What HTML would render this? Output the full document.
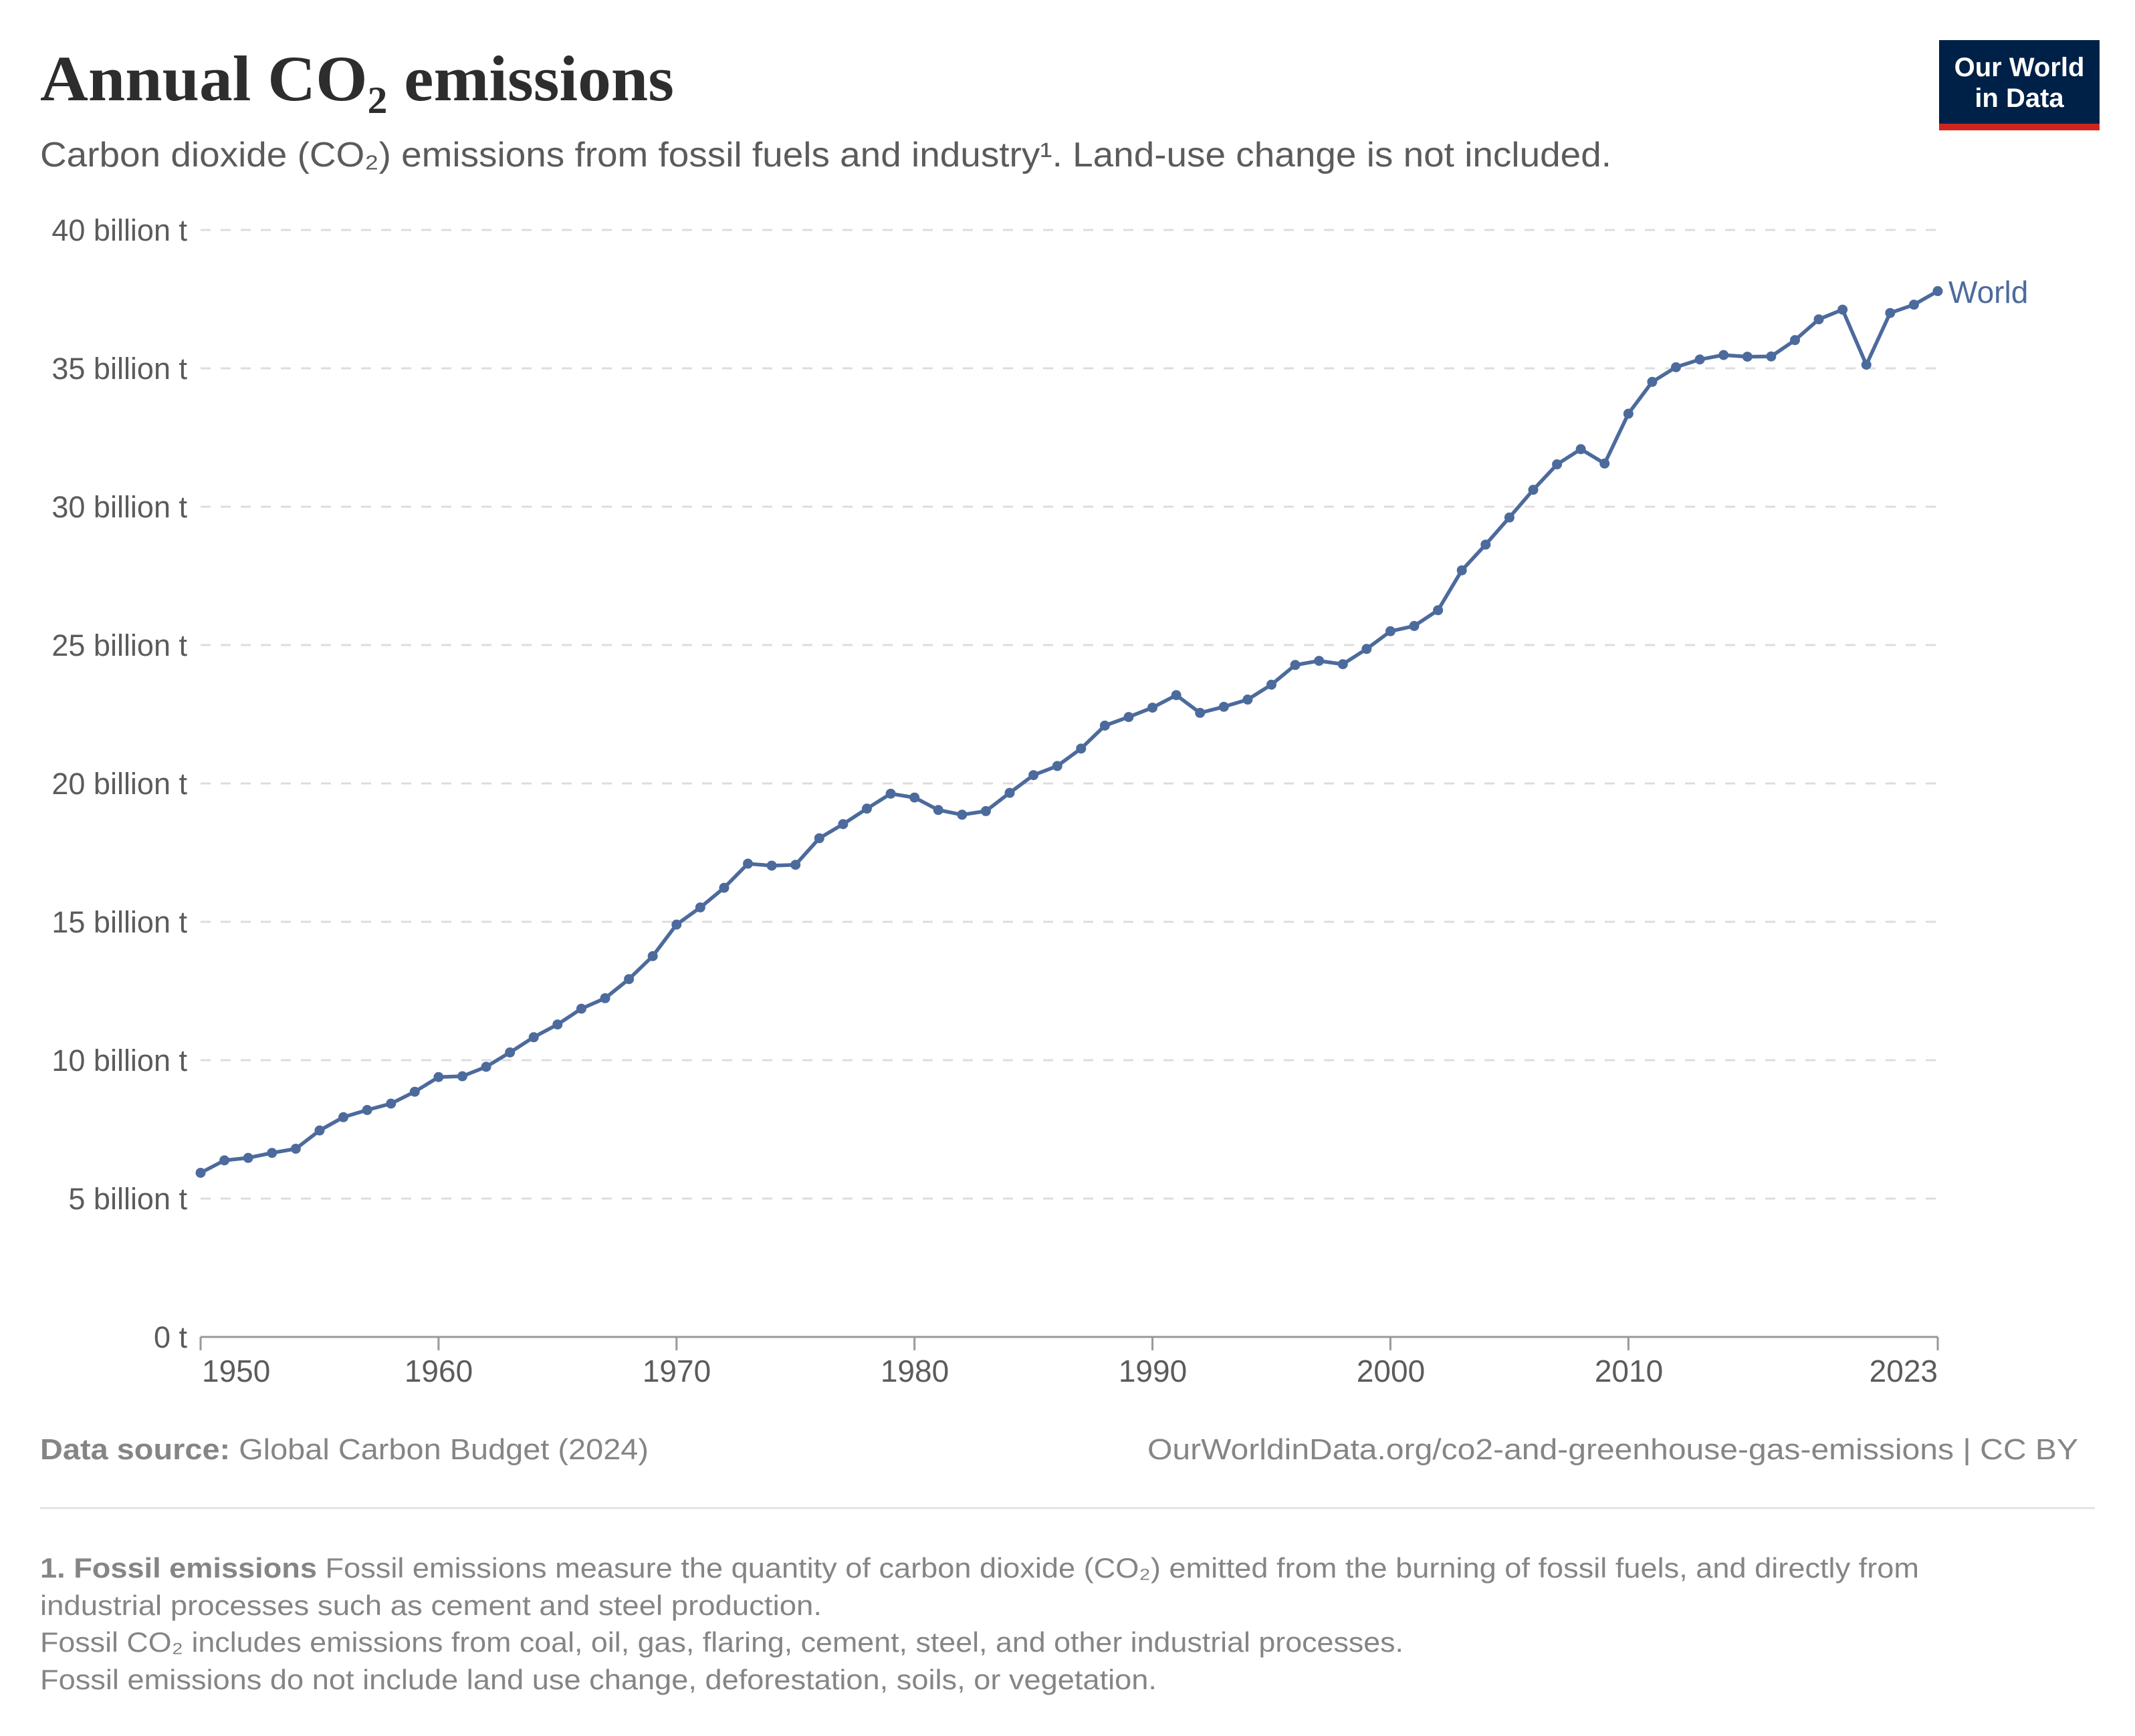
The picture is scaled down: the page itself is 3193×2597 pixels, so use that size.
<!DOCTYPE html>
<html><head><meta charset="utf-8"><style>
html,body{margin:0;padding:0;background:#fff;}
svg{display:block;}
text{font-family:"Liberation Sans",sans-serif;}
</style></head><body>
<svg id="s" width="3193" height="2597" viewBox="0 0 3193 2597" xmlns="http://www.w3.org/2000/svg">
<rect width="3193" height="2597" fill="#fff"/>
<text x="60" y="150" style="font-family:'Liberation Serif',serif" font-weight="bold" font-size="96" fill="#2d2d2d" textLength="948" lengthAdjust="spacingAndGlyphs">Annual CO₂ emissions</text>
<text x="60" y="249" font-size="52" fill="#5b5b5b" textLength="2350" lengthAdjust="spacingAndGlyphs">Carbon dioxide (CO₂) emissions from fossil fuels and industry¹. Land-use change is not included.</text>
<rect x="2900" y="60" width="240" height="125" fill="#002147"/>
<rect x="2900" y="185" width="240" height="10" fill="#ce261e"/>
<text x="3020" y="114" font-size="40" font-weight="bold" fill="#fff" text-anchor="middle">Our World</text>
<text x="3020" y="160" font-size="40" font-weight="bold" fill="#fff" text-anchor="middle">in Data</text>
<g stroke="#dddddd" stroke-width="3" stroke-dasharray="15,15">
<line x1="300" x2="2898" y1="344" y2="344"/><line x1="300" x2="2898" y1="551" y2="551"/>
<line x1="300" x2="2898" y1="758" y2="758"/><line x1="300" x2="2898" y1="965" y2="965"/>
<line x1="300" x2="2898" y1="1172" y2="1172"/><line x1="300" x2="2898" y1="1379" y2="1379"/>
<line x1="300" x2="2898" y1="1586" y2="1586"/><line x1="300" x2="2898" y1="1793" y2="1793"/>
</g>
<g font-size="45" fill="#5b5b5b" text-anchor="end">
<text x="280" y="360">40 billion t</text><text x="280" y="567">35 billion t</text>
<text x="280" y="774">30 billion t</text><text x="280" y="981">25 billion t</text>
<text x="280" y="1188">20 billion t</text><text x="280" y="1395">15 billion t</text>
<text x="280" y="1602">10 billion t</text><text x="280" y="1809">5 billion t</text>
<text x="280" y="2016">0 t</text>
</g>
<line x1="300" x2="2898" y1="2000" y2="2000" stroke="#999" stroke-width="3"/>
<g stroke="#999" stroke-width="3" id="ticks"></g>
<g font-size="46" fill="#5b5b5b" text-anchor="middle">
<text x="302" y="2067" text-anchor="start">1950</text>
<text x="656" y="2067">1960</text><text x="1012" y="2067">1970</text>
<text x="1368" y="2067">1980</text><text x="1724" y="2067">1990</text>
<text x="2080" y="2067">2000</text><text x="2436" y="2067">2010</text>
<text x="2898" y="2067" text-anchor="end">2023</text>
</g>
<g id="series"></g>
<text x="2914" y="453" font-size="46" fill="#4c6a9c">World</text>
<text x="60" y="2183" font-size="44" fill="#858585" textLength="910" lengthAdjust="spacingAndGlyphs"><tspan font-weight="bold">Data source:</tspan> Global Carbon Budget (2024)</text>
<text x="1716" y="2183" font-size="44" fill="#858585" textLength="1392" lengthAdjust="spacingAndGlyphs">OurWorldinData.org/co2-and-greenhouse-gas-emissions | CC BY</text>
<line x1="60" x2="3133" y1="2256" y2="2256" stroke="#e2e2e2" stroke-width="3"/>
<g font-size="42" fill="#858585">
<text x="60" y="2360" textLength="2810" lengthAdjust="spacingAndGlyphs"><tspan font-weight="bold">1. Fossil emissions</tspan> Fossil emissions measure the quantity of carbon dioxide (CO₂) emitted from the burning of fossil fuels, and directly from</text>
<text x="60" y="2416" textLength="1169" lengthAdjust="spacingAndGlyphs">industrial processes such as cement and steel production.</text>
<text x="60" y="2471" textLength="2039" lengthAdjust="spacingAndGlyphs">Fossil CO₂ includes emissions from coal, oil, gas, flaring, cement, steel, and other industrial processes.</text>
<text x="60" y="2527" textLength="1670" lengthAdjust="spacingAndGlyphs">Fossil emissions do not include land use change, deforestation, soils, or vegetation.</text>
</g>
</svg>
<script>
var d=[5.93,6.38,6.47,6.65,6.80,7.46,7.94,8.20,8.43,8.86,9.39,9.42,9.76,10.28,10.83,11.29,11.86,12.24,12.93,13.76,14.90,15.52,16.23,17.10,17.03,17.06,18.02,18.53,19.09,19.63,19.49,19.04,18.87,19.00,19.66,20.30,20.63,21.26,22.09,22.40,22.74,23.19,22.55,22.77,23.03,23.57,24.28,24.43,24.31,24.86,25.50,25.69,26.26,27.70,28.63,29.61,30.61,31.53,32.08,31.56,33.36,34.51,35.04,35.32,35.48,35.42,35.43,36.02,36.77,37.12,35.13,37.00,37.30,37.79];
var NS="http://www.w3.org/2000/svg",g=document.getElementById("series"),pts=[];
function X(i){return 300+i*(2598/73);}function Y(v){return 2000-v*41.4;}
for(var i=0;i<d.length;i++)pts.push(X(i).toFixed(1)+","+Y(d[i]).toFixed(1));
var p=document.createElementNS(NS,"polyline");p.setAttribute("points",pts.join(" "));
p.setAttribute("fill","none");p.setAttribute("stroke","#4c6a9c");p.setAttribute("stroke-width","5.5");p.setAttribute("stroke-linejoin","round");g.appendChild(p);
for(i=0;i<d.length;i++){var c=document.createElementNS(NS,"circle");c.setAttribute("cx",X(i));c.setAttribute("cy",Y(d[i]));c.setAttribute("r","7.5");c.setAttribute("fill","#4c6a9c");g.appendChild(c);}
var t=document.getElementById("ticks"),yrs=[0,10,20,30,40,50,60,73];
for(i=0;i<yrs.length;i++){var l=document.createElementNS(NS,"line");l.setAttribute("x1",X(yrs[i]));l.setAttribute("x2",X(yrs[i]));l.setAttribute("y1","2000");l.setAttribute("y2","2020");t.appendChild(l);}
</script>
</body></html>
